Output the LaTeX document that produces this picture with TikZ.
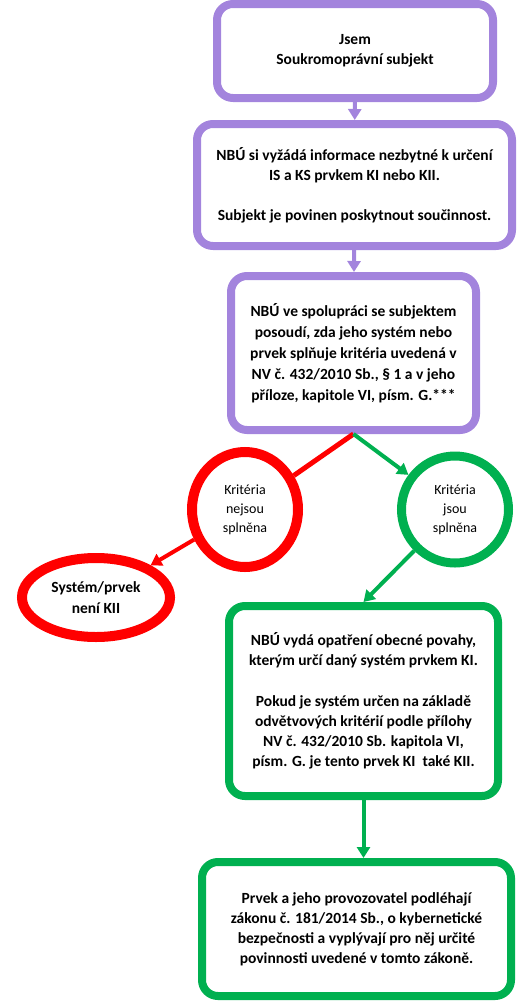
\documentclass[tikz,border=0pt]{standalone}
\usepackage{fontspec}
\setmainfont{Carlito}
\usetikzlibrary{arrows.meta,shapes.geometric}

\definecolor{kipurple}{RGB}{163,132,221}
\definecolor{kigreen}{RGB}{0,176,80}
\definecolor{kired}{RGB}{255,0,0}

\tikzset{
  stepbox/.style={draw=#1, line width=8pt, rounded corners=16pt, align=center,
    inner sep=0pt, font=\fontsize{15.5}{20}\selectfont\bfseries},
  verdict/.style={draw=#1, line width=10pt, inner sep=0pt, align=center,
    font=\fontsize{14}{19}\selectfont},
  link/.style={draw=#1, line width=4pt, -{Triangle[width=13pt,length=11pt]}},
}

\begin{document}
\begin{tikzpicture}[x=1pt,y=-1pt]
    \useasboundingbox (0,0) rectangle (520,1004);

    % Define the boxes
    \node[stepbox=kipurple, minimum width=276pt, minimum height=94pt] (subject) at (355,51)
      {\raisebox{-3pt}{Jsem}\\\raisebox{-3pt}{Soukromoprávní subjekt}};
    \node[stepbox=kipurple, minimum width=315pt, minimum height=122pt] (request) at (354.5,185)
      {NBÚ si vyžádá informace nezbytné k určení\\IS a KS prvkem KI nebo KII.\\[20pt]
       Subjekt je povinen poskytnout součinnost.};
    \node[stepbox=kipurple, minimum width=245pt, minimum height=154pt,
      font=\fontsize{15.5}{21}\selectfont\bfseries] (assess) at (353.5,353)
      {NBÚ ve spolupráci se subjektem\\posoudí, zda jeho systém nebo\\prvek splňuje kritéria uvedená v\\
       NV č. 432/2010 Sb., § 1 a v jeho\\příloze, kapitole VI, písm. G.***};

    % The two verdicts
    \node[verdict=kired, ellipse, minimum width=106pt, minimum height=115pt] (notmet) at (245,509.5)
      {Kritéria\\nejsou\\splněna};
    \node[verdict=kigreen, circle, line width=9pt, minimum size=107pt] (met) at (455,509.5)
      {Kritéria\\jsou\\splněna};
    \node[verdict=kired, ellipse, minimum width=148pt, minimum height=79pt,
      font=\fontsize{15.5}{21}\selectfont\bfseries] (notkii) at (96,597.5)
      {Systém/prvek\\není KII};

    \node[stepbox=kigreen, minimum width=269pt, minimum height=190pt] (decree) at (363.5,701)
      {NBÚ vydá opatření obecné povahy,\\kterým určí daný systém prvkem KI.\\[21pt]
       Pokud je systém určen na základě\\odvětvových kritérií podle přílohy\\
       NV č. 432/2010 Sb. kapitola VI,\\písm. G. je tento prvek KI\ \ také KII.};
    \node[stepbox=kigreen, minimum width=309pt, minimum height=134pt] (duties) at (356.5,929)
      {Prvek a jeho provozovatel podléhají\\zákonu č. 181/2014 Sb., o kybernetické\\
       bezpečnosti a vyplývají pro něj určité\\povinnosti uvedené v tomto zákoně.};

    % Connect them
    \draw[link=kipurple] (subject) -- (request);
    \draw[link=kipurple] (request) -- (assess);
    \draw[kired, line width=5pt] (assess.south) -- (notmet);
    \draw[link=kigreen] (assess.south) -- (met);
    \draw[link=kired] (notmet) -- (notkii);
    \draw[link=kigreen] (met) -- (decree.north);
    \draw[link=kigreen] (decree.south) -- (decree.south |- duties.north);

    \end{tikzpicture}
\end{document}
